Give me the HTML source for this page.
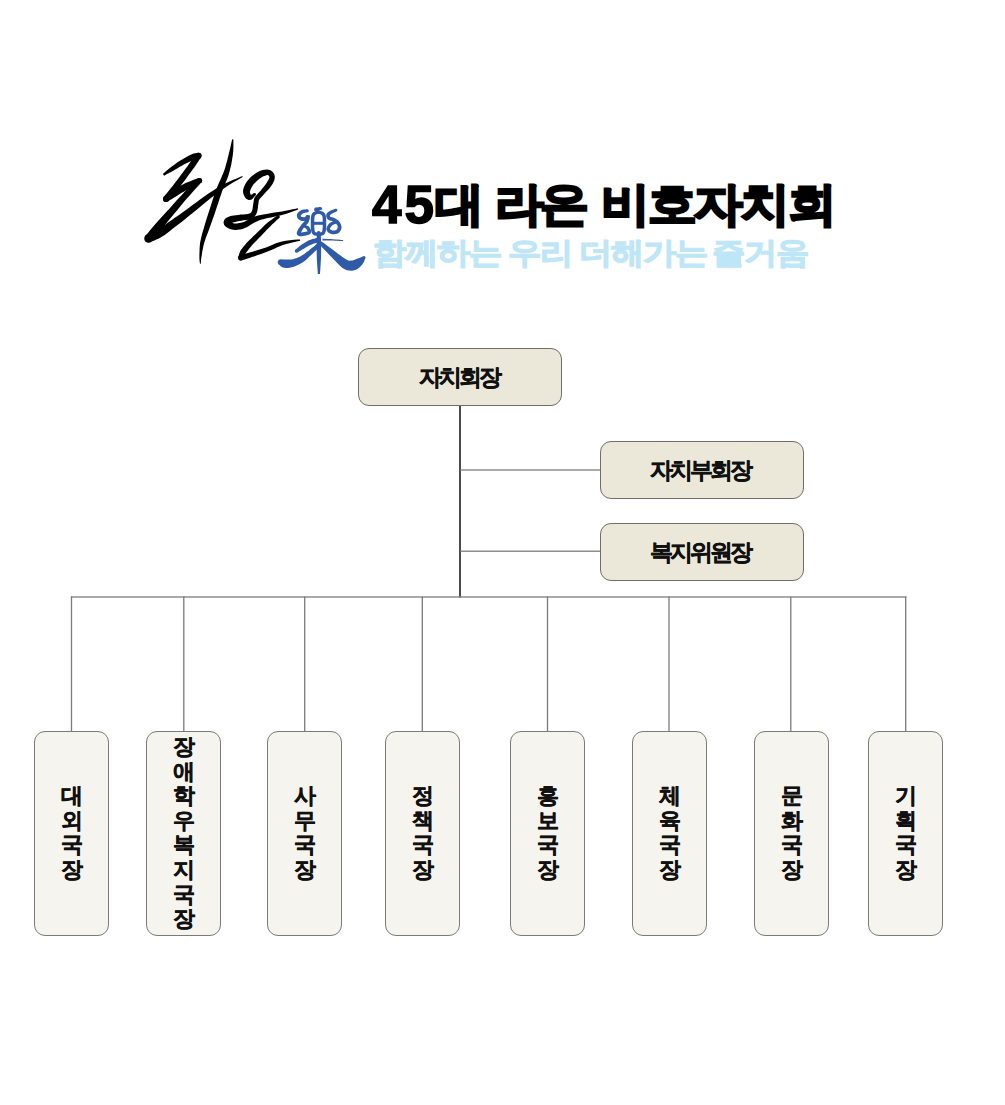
<!DOCTYPE html>
<html><head><meta charset="utf-8">
<style>
html,body{margin:0;padding:0;background:#fff;}
body{width:1005px;height:1105px;position:relative;overflow:hidden;font-family:"Liberation Sans",sans-serif;}
.a{position:absolute;}
.t{position:absolute;font-weight:bold;color:#000;white-space:nowrap;-webkit-text-stroke:2.5px #000;transform-origin:0 0;}
.th{font-size:46px;line-height:46px;top:181px;letter-spacing:-2px;transform:scaleX(1.06);}
.td{font-size:53px;line-height:53px;top:178px;letter-spacing:3px;-webkit-text-stroke:1.5px #000;}
.s{position:absolute;font-weight:normal;color:#bfe6f6;white-space:nowrap;-webkit-text-stroke:2.2px #bfe6f6;transform-origin:0 0;font-size:30px;line-height:30px;top:238px;letter-spacing:-1.1px;transform:scaleX(1.11);}
.box{position:absolute;box-sizing:border-box;border:1.6px solid #6f6f68;border-radius:11px;background:#ebe7d9;}
.bx{position:absolute;box-sizing:border-box;border:1.5px solid #7a7a76;border-radius:11px;background:#f6f4ee;}
.lbl{position:absolute;font-size:23px;line-height:30px;font-weight:bold;color:#111;-webkit-text-stroke:0.4px #111;white-space:nowrap;letter-spacing:-3px;}
.vl{position:absolute;width:1.3px;background:#8a8a8a;}
.hl{position:absolute;height:1.3px;background:#8a8a8a;}
.vt{position:absolute;font-size:22px;line-height:24.6px;font-weight:bold;color:#111;-webkit-text-stroke:0.4px #111;width:30px;text-align:center;}
</style></head>
<body>
<!-- logo -->
<svg class="a" style="left:0;top:0" width="1005" height="300" viewBox="0 0 1005 300">
<g fill="#000">
<path d="M164.1 175.7L165.3 175.1L167.0 174.1L169.0 173.1L171.1 171.9L173.2 170.8L175.3 169.5L177.6 168.2L179.9 166.8L182.2 165.5L184.3 164.3L186.4 163.2L188.6 162.2L190.6 161.2L192.5 160.4L194.1 159.8L195.3 159.4L196.4 159.2L197.3 159.0L198.2 158.9L198.9 158.8L198.1 152.8L197.4 152.9L196.5 153.0L195.2 153.2L193.6 153.6L191.9 154.2L190.1 155.0L188.1 156.0L186.0 157.2L183.8 158.4L181.7 159.7L179.5 161.1L177.2 162.6L175.0 164.2L172.8 165.8L170.8 167.2L168.9 168.7L167.1 170.3L165.3 171.8L163.9 173.0L162.9 173.9Z"/>
<circle cx="198.5" cy="155.8" r="3.00"/>
<path d="M196.0 154.1L194.9 155.7L193.4 157.9L191.5 160.5L189.5 163.3L187.5 166.2L185.3 169.1L183.0 172.3L180.5 175.6L178.0 178.9L175.6 182.1L173.0 185.4L170.2 188.9L167.6 192.2L165.3 195.1L163.7 197.1L168.3 200.9L170.0 198.9L172.3 196.0L175.0 192.7L177.8 189.2L180.4 185.9L182.9 182.7L185.5 179.4L187.9 176.0L190.3 172.8L192.5 169.8L194.6 166.9L196.6 164.0L198.4 161.3L199.9 159.1L201.0 157.5Z"/>
<circle cx="198.5" cy="155.8" r="3.00"/>
<circle cx="166.0" cy="199.0" r="3.00"/>
<path d="M167.7 201.5L168.9 200.7L170.6 199.7L172.6 198.5L174.7 197.2L176.8 195.9L179.0 194.5L181.3 193.1L183.7 191.7L186.1 190.2L188.5 188.9L191.0 187.6L193.8 186.2L196.5 184.8L198.8 183.7L200.5 182.9L198.5 178.1L196.7 178.7L194.3 179.6L191.4 180.7L188.3 181.9L185.5 183.1L182.9 184.4L180.3 185.8L177.8 187.3L175.4 188.7L173.2 190.1L171.0 191.6L168.9 193.1L167.0 194.5L165.4 195.7L164.3 196.5Z"/>
<circle cx="166.0" cy="199.0" r="3.00"/>
<circle cx="199.5" cy="180.5" r="2.60"/>
<path d="M197.6 178.7L195.6 180.8L192.6 183.7L189.3 187.1L185.8 190.6L182.7 193.9L179.9 196.9L177.2 199.8L174.6 202.8L172.0 205.7L169.4 208.7L166.5 211.8L163.5 215.1L160.4 218.4L157.6 221.5L155.0 224.4L152.6 227.2L150.3 229.9L148.3 232.4L146.6 234.5L145.4 236.0L151.6 241.0L152.8 239.5L154.5 237.5L156.5 235.0L158.8 232.4L161.0 229.6L163.5 226.7L166.2 223.4L169.0 220.0L171.9 216.6L174.6 213.3L177.2 210.2L179.8 207.1L182.2 204.1L184.7 201.1L187.3 198.1L190.3 194.8L193.5 191.1L196.7 187.5L199.5 184.5L201.4 182.3Z"/>
<circle cx="199.5" cy="180.5" r="2.60"/>
<circle cx="148.5" cy="238.5" r="4.00"/>
<path d="M150.1 242.2L151.6 241.5L153.8 240.7L156.4 239.6L159.3 238.2L162.2 236.6L165.0 234.8L167.7 232.8L170.5 230.6L173.3 228.3L176.2 226.0L179.2 223.7L182.2 221.4L185.3 218.9L188.5 216.3L192.0 213.6L195.7 210.5L199.7 207.2L203.8 203.8L207.8 200.6L211.5 197.6L214.8 195.0L217.9 192.7L220.8 190.5L223.8 188.4L226.8 186.4L230.2 184.2L233.9 182.0L237.5 180.0L240.5 178.2L242.7 176.9L242.3 176.1L240.0 177.0L236.7 178.4L232.8 180.0L228.9 181.8L225.2 183.6L221.9 185.4L218.7 187.2L215.5 189.1L212.1 191.2L208.5 193.6L204.6 196.3L200.4 199.3L196.1 202.5L191.9 205.6L188.0 208.4L184.5 211.0L181.1 213.4L177.9 215.7L174.8 217.8L171.8 220.0L168.7 222.1L165.8 224.2L162.9 226.1L160.3 227.8L157.8 229.4L155.4 230.7L152.9 232.0L150.5 233.1L148.4 234.1L146.9 234.8Z"/>
<circle cx="148.5" cy="238.5" r="4.00"/>
<path d="M232.2 139.2L231.8 141.0L231.2 143.6L230.6 146.5L229.8 149.7L229.0 152.9L228.2 156.3L227.3 159.9L226.3 163.6L225.3 167.3L224.1 170.9L222.7 174.3L221.2 177.9L219.6 181.5L217.9 185.2L216.4 188.9L215.0 192.6L213.8 196.3L212.6 200.0L211.4 203.7L210.3 207.3L209.1 211.0L207.9 214.8L206.7 218.6L205.5 222.3L204.5 225.8L203.5 229.2L202.5 232.5L201.6 235.8L200.9 239.0L200.2 242.2L199.8 245.4L199.6 248.7L199.5 251.9L199.4 254.7L199.4 257.1L199.4 259.1L199.6 260.7L199.7 262.0L199.9 263.0L200.0 263.7L200.8 263.7L200.8 262.9L200.9 261.9L201.0 260.7L201.1 259.2L201.4 257.3L201.8 254.9L202.2 252.1L202.8 249.1L203.4 246.0L204.2 243.0L205.1 240.1L206.1 237.1L207.3 234.1L208.5 230.9L209.7 227.6L211.0 224.1L212.2 220.4L213.6 216.7L214.9 213.0L216.1 209.3L217.4 205.6L218.6 201.9L219.7 198.3L221.0 194.7L222.2 191.1L223.6 187.5L225.1 183.9L226.6 180.2L228.1 176.4L229.3 172.5L230.3 168.6L231.2 164.7L231.9 160.8L232.5 157.1L233.0 153.7L233.3 150.3L233.4 146.9L233.4 143.8L233.4 141.2L233.4 139.4Z"/>
<path d="M253.9 193.2L253.0 193.7L251.7 194.4L250.5 195.0L249.7 195.1L250.3 194.9L250.8 194.8L250.5 194.1L250.1 193.1L249.9 192.1L250.0 191.3L250.3 190.4L250.8 188.9L251.7 187.3L252.7 185.6L253.8 184.1L255.1 182.7L256.6 181.2L258.2 179.7L259.9 178.5L261.4 177.4L262.8 176.6L264.4 175.9L265.9 175.4L267.1 175.1L267.9 175.1L268.2 175.2L268.6 175.5L269.0 176.1L269.3 176.7L269.4 177.2L269.3 177.7L269.0 178.6L268.5 179.8L267.7 181.1L266.9 182.5L265.9 183.9L264.8 185.5L263.4 187.2L262.1 188.8L260.8 190.4L259.6 191.7L258.4 193.0L257.1 194.4L255.9 195.8L254.8 197.2L254.1 198.8L253.8 200.2L253.6 201.4L253.5 202.5L253.3 203.6L253.1 205.1L252.8 206.9L252.6 208.5L252.3 209.9L251.9 211.0L251.4 211.9L251.1 212.5L250.7 212.9L250.2 213.2L249.3 213.6L247.8 214.0L245.6 214.2L243.2 214.4L240.6 214.6L238.2 214.9L236.0 215.2L233.9 215.5L231.8 215.8L229.9 216.3L228.1 216.9L226.5 217.7L225.2 218.8L224.1 220.3L223.5 222.6L224.2 224.9L225.5 226.4L227.0 227.5L228.8 228.5L230.8 229.3L233.1 229.8L235.4 229.9L237.7 229.8L240.2 229.4L242.6 228.9L244.9 228.1L247.2 227.1L249.2 225.8L251.1 224.6L252.8 223.4L254.5 222.5L256.2 221.7L257.8 221.0L259.6 220.3L261.7 219.6L264.2 218.9L267.4 218.1L271.1 217.4L275.1 216.6L279.1 215.7L282.8 214.8L286.4 213.7L290.0 212.5L293.3 211.3L296.2 210.3L298.2 209.6L297.8 208.2L295.7 208.7L292.7 209.3L289.3 210.0L285.6 210.7L282.0 211.4L278.4 212.0L274.4 212.6L270.4 213.3L266.5 213.9L263.2 214.5L260.5 215.1L258.2 215.6L256.2 216.1L254.2 216.7L252.1 217.5L250.0 218.5L248.0 219.7L246.1 220.8L244.5 221.7L242.9 222.3L241.1 222.7L239.1 223.1L237.1 223.4L235.3 223.5L233.9 223.4L232.8 223.1L231.6 222.6L230.5 222.0L229.8 221.5L229.8 221.5L230.1 222.5L229.9 223.4L229.8 223.6L230.1 223.4L230.7 223.1L231.7 222.8L233.2 222.4L235.1 222.0L237.1 221.5L239.2 221.1L241.4 220.7L243.8 220.3L246.4 220.0L248.9 219.5L251.1 218.8L252.9 217.9L254.3 216.9L255.3 215.6L256.1 214.4L256.7 213.0L257.3 211.3L257.6 209.4L257.9 207.5L258.0 205.9L258.3 204.4L258.5 203.1L258.6 201.9L258.7 201.1L258.8 200.5L259.2 199.8L259.8 198.8L260.8 197.7L261.9 196.5L263.3 195.1L264.6 193.6L265.9 192.1L267.4 190.5L268.9 188.9L270.3 187.2L271.5 185.5L272.5 183.9L273.4 182.3L274.2 180.6L274.7 178.8L274.8 176.8L274.5 175.0L273.7 173.3L272.5 171.7L270.9 170.5L268.9 169.7L266.9 169.5L264.7 169.7L262.6 170.1L260.4 170.8L258.2 171.8L256.1 172.9L254.0 174.4L252.0 176.0L250.1 177.8L248.4 179.7L246.9 181.6L245.5 183.8L244.4 186.0L243.5 188.3L243.0 190.7L243.2 193.2L244.0 195.4L245.1 197.4L246.5 198.9L248.7 200.1L251.3 199.7L252.9 198.5L254.0 197.1L254.9 195.9L255.5 195.2Z"/>
<circle cx="254.7" cy="194.2" r="1.25"/>
<path d="M277.4 215.5L276.0 216.5L274.1 217.8L271.9 219.4L269.6 221.1L267.4 222.8L265.4 224.6L263.4 226.5L261.5 228.4L259.6 230.3L257.7 232.1L255.8 234.0L253.8 235.8L251.9 237.7L250.0 239.5L248.2 241.3L246.5 243.1L244.9 244.9L243.4 246.7L242.1 248.4L240.9 250.1L240.0 251.8L239.3 253.5L238.9 255.0L238.6 256.1L238.3 256.9L243.3 258.7L243.6 257.8L244.0 256.8L244.5 255.6L245.1 254.4L245.9 253.1L246.8 251.8L248.0 250.2L249.3 248.6L250.7 246.8L252.2 245.1L253.8 243.3L255.6 241.4L257.5 239.5L259.4 237.6L261.3 235.7L263.1 233.7L265.0 231.8L266.8 229.8L268.6 228.0L270.4 226.2L272.3 224.3L274.4 222.4L276.3 220.6L278.0 219.0L279.2 217.9Z"/>
<circle cx="278.3" cy="216.7" r="1.50"/>
<circle cx="240.8" cy="257.8" r="2.60"/>
<path d="M241.5 260.3L242.9 259.9L244.7 259.4L246.9 258.7L249.4 257.9L252.0 257.1L254.7 256.2L257.8 255.1L261.1 254.0L264.4 252.8L267.6 251.6L270.7 250.3L273.8 248.9L276.8 247.5L279.8 246.2L282.9 245.0L286.4 244.0L290.4 243.0L294.4 242.1L297.8 241.3L300.2 240.8L300.0 239.4L297.5 239.6L294.0 239.8L289.9 240.2L285.7 240.7L281.9 241.4L278.4 242.4L275.2 243.6L272.1 244.9L269.0 246.2L266.0 247.4L262.8 248.5L259.6 249.5L256.3 250.5L253.2 251.5L250.4 252.3L247.9 253.1L245.4 253.8L243.2 254.4L241.4 254.9L240.1 255.3Z"/>
<circle cx="240.8" cy="257.8" r="2.60"/>
</g>
<g fill="#2f5aa8">
<path d="M307.1 209.2L306.3 209.3L305.2 209.4L303.8 209.5L302.4 209.7L301.1 210.2L299.9 210.9L299.0 211.7L298.1 212.6L297.4 213.6L296.9 214.8L296.9 216.1L297.1 217.3L297.7 218.3L298.5 219.3L299.5 220.1L300.7 220.6L302.0 220.9L303.3 221.0L304.7 221.0L306.2 220.8L307.5 219.9L308.4 218.8L309.1 217.9L309.3 217.4L306.6 217.0L306.4 216.5L306.2 217.3L305.9 218.4L305.5 219.6L305.0 220.6L304.5 221.3L303.8 222.1L302.9 223.0L301.9 224.0L301.0 225.2L300.1 226.4L299.2 227.7L298.4 229.1L297.6 230.4L297.1 231.5L296.8 232.6L296.8 233.7L297.3 235.0L298.4 235.8L299.5 236.2L300.7 236.3L302.0 236.2L303.4 236.0L304.7 235.8L305.9 235.6L306.9 235.3L307.9 235.1L308.9 234.7L310.0 234.1L311.0 232.9L311.2 231.4L310.9 230.1L310.4 229.0L309.9 227.9L309.2 227.0L308.4 226.3L307.4 225.8L306.6 225.4L305.9 225.2L305.5 225.0L304.3 227.6L304.7 227.8L305.3 228.1L305.9 228.5L306.3 228.9L306.6 229.2L306.9 229.7L307.2 230.4L307.5 231.2L307.6 231.6L307.6 231.5L307.8 231.2L307.6 231.3L306.9 231.5L306.1 231.7L305.1 231.8L304.1 232.0L302.8 232.3L301.6 232.4L300.7 232.5L300.1 232.4L300.2 232.4L300.5 232.7L300.7 233.2L300.8 233.3L300.9 232.9L301.2 232.1L301.8 231.0L302.5 229.8L303.3 228.5L304.0 227.4L304.8 226.5L305.6 225.7L306.6 224.7L307.5 223.7L308.4 222.4L309.0 221.0L309.5 219.5L309.8 218.1L310.0 216.8L309.8 215.2L306.6 215.0L306.0 215.8L305.5 216.6L305.0 217.1L304.8 217.2L304.4 217.2L303.6 217.2L302.6 217.1L301.8 216.9L301.3 216.7L301.1 216.6L300.9 216.3L300.7 216.0L300.7 215.7L300.7 215.6L300.7 215.4L301.1 215.0L301.6 214.5L302.2 214.0L302.7 213.6L303.5 213.3L304.5 212.9L305.7 212.6L306.8 212.4L307.5 212.2Z"/>
<circle cx="307.3" cy="210.7" r="1.50"/>
<circle cx="304.9" cy="226.3" r="1.40"/>
<path d="M316.4 211.4L317.1 211.2L318.1 210.9L319.2 210.5L320.2 210.3L320.8 210.1L320.2 206.9L319.5 207.0L318.4 207.2L317.3 207.4L316.3 207.5L315.6 207.6Z"/>
<circle cx="316.0" cy="209.5" r="1.90"/>
<circle cx="320.5" cy="208.5" r="1.60"/>
<path d="M318.0 210.5L317.3 210.7L316.2 210.9L314.8 211.4L313.2 212.2L312.0 213.6L311.3 215.3L311.0 217.2L310.8 219.1L310.8 221.1L310.8 223.0L310.8 225.0L310.8 227.2L311.0 229.4L311.3 231.5L312.0 233.3L313.1 234.7L314.6 235.5L316.1 235.8L317.4 235.8L318.5 235.8L319.6 235.8L320.9 235.8L322.4 235.5L323.9 234.7L325.0 233.3L325.7 231.5L326.0 229.4L326.2 227.2L326.2 225.0L326.2 223.0L326.2 221.1L326.2 219.1L326.0 217.2L325.7 215.3L325.0 213.6L323.8 212.2L322.2 211.4L320.8 210.9L319.7 210.7L319.0 210.5L318.0 213.5L318.8 213.8L319.8 214.1L320.9 214.5L321.6 214.9L322.0 215.4L322.3 216.3L322.5 217.6L322.7 219.3L322.7 221.2L322.8 223.0L322.7 224.9L322.7 227.0L322.5 229.0L322.3 230.7L322.0 231.7L321.7 232.1L321.2 232.3L320.5 232.5L319.5 232.6L318.5 232.6L317.5 232.6L316.5 232.5L315.8 232.3L315.3 232.1L315.0 231.7L314.7 230.7L314.5 229.0L314.3 227.0L314.3 224.9L314.2 223.0L314.3 221.2L314.3 219.3L314.5 217.6L314.7 216.3L315.0 215.4L315.4 214.9L316.1 214.5L317.2 214.1L318.2 213.8L319.0 213.5Z"/>
<circle cx="318.5" cy="212.0" r="1.60"/>
<circle cx="318.5" cy="212.0" r="1.60"/>
<path d="M313.0 224.8L314.7 224.8L317.1 224.8L319.9 224.8L322.3 224.8L324.0 224.8L324.0 221.8L322.3 221.8L319.9 221.8L317.1 221.8L314.7 221.8L313.0 221.8Z"/>
<circle cx="313.0" cy="223.3" r="1.50"/>
<circle cx="324.0" cy="223.3" r="1.50"/>
<path d="M335.4 208.8L334.3 209.2L332.7 209.8L330.8 210.6L329.0 211.4L327.5 212.4L326.6 213.8L326.2 215.3L326.3 216.7L326.7 217.9L327.5 219.1L328.6 220.0L329.9 220.5L331.0 220.7L332.0 221.0L332.8 221.3L333.6 221.8L334.5 222.3L335.2 222.8L335.8 223.3L336.3 223.9L336.7 224.5L337.2 225.3L337.5 226.1L337.7 226.8L337.7 227.4L337.6 227.9L337.4 228.5L337.0 229.2L336.6 229.7L336.2 230.0L335.7 230.2L334.9 230.4L333.9 230.5L333.0 230.5L332.3 230.4L331.6 230.1L330.9 229.8L330.4 229.4L330.0 229.1L330.0 229.0L330.0 228.8L330.2 228.1L330.7 227.2L331.2 226.4L331.8 225.7L332.4 225.2L333.3 224.7L334.3 224.2L335.3 223.8L336.0 223.5L334.8 220.7L334.1 221.0L333.1 221.3L331.9 221.8L330.6 222.4L329.4 223.3L328.5 224.3L327.7 225.4L327.0 226.7L326.5 228.0L326.4 229.6L327.0 231.0L327.9 232.1L328.9 233.0L330.1 233.6L331.3 234.0L332.7 234.3L334.1 234.3L335.5 234.1L336.9 233.8L338.2 233.2L339.3 232.4L340.1 231.3L340.8 230.2L341.3 228.9L341.5 227.6L341.4 226.3L341.1 225.0L340.6 223.7L340.0 222.6L339.3 221.5L338.4 220.6L337.4 219.8L336.4 219.2L335.4 218.6L334.4 218.1L333.2 217.6L331.9 217.3L330.9 217.0L330.3 216.8L330.1 216.7L330.0 216.5L329.9 216.0L329.9 215.6L329.9 215.3L330.1 215.0L330.8 214.4L332.2 213.5L333.9 212.7L335.5 211.9L336.6 211.4Z"/>
<circle cx="336.0" cy="210.1" r="1.40"/>
<circle cx="335.4" cy="222.1" r="1.50"/>
<path d="M322.5 240.4L323.9 240.4L325.9 240.5L328.3 240.5L330.7 240.5L333.0 240.6L335.2 240.7L337.5 240.8L339.8 240.9L341.7 241.0L343.1 241.1L343.1 240.1L341.8 240.0L339.8 239.8L337.6 239.6L335.2 239.4L333.0 239.2L330.8 239.1L328.3 239.0L326.0 238.9L324.0 238.8L322.5 238.8Z"/>
<path d="M316.7 233.0L316.7 234.6L316.7 236.8L316.7 239.4L316.6 242.2L316.7 245.0L316.7 247.8L316.7 250.8L316.7 253.9L316.8 257.0L316.9 260.0L317.1 263.1L317.3 266.3L317.5 269.5L317.7 272.1L317.8 274.0L320.0 274.0L320.1 272.1L320.3 269.5L320.5 266.3L320.7 263.1L320.9 260.0L321.0 257.0L321.1 253.9L321.1 250.8L321.2 247.8L321.1 245.0L321.1 242.2L321.0 239.4L320.9 236.8L320.8 234.5L320.7 233.0Z"/>
<circle cx="318.7" cy="233.0" r="2.00"/>
<path d="M297.5 252.4L298.4 251.9L299.7 251.1L301.2 250.2L302.8 249.2L304.2 248.4L305.6 247.6L307.0 246.8L308.3 246.0L309.7 245.3L311.0 244.7L312.3 244.2L313.8 243.6L315.3 243.2L316.7 242.8L317.6 242.5L316.4 238.1L315.4 238.4L314.1 238.7L312.4 239.1L310.7 239.7L309.0 240.3L307.5 241.0L306.0 241.9L304.6 242.8L303.1 243.7L301.8 244.6L300.4 245.6L298.9 246.8L297.5 247.9L296.3 248.9L295.5 249.6Z"/>
<circle cx="296.5" cy="251.0" r="1.75"/>
<circle cx="317.0" cy="240.3" r="2.25"/>
<path d="M316.2 244.6L315.1 245.5L313.6 246.7L311.8 248.1L310.0 249.6L308.3 250.9L306.6 252.1L305.0 253.4L303.4 254.5L301.8 255.5L300.2 256.4L298.6 257.2L296.9 258.0L295.1 258.6L293.5 259.1L292.0 259.5L290.6 259.6L289.1 259.6L287.7 259.5L286.3 259.4L285.2 259.4L284.6 259.4L284.1 259.5L283.4 259.6L282.7 259.6L282.1 259.5L279.5 264.9L279.9 265.3L280.4 265.9L281.4 266.7L282.7 267.4L284.4 267.8L286.0 267.9L287.7 267.9L289.7 267.7L291.8 267.3L293.8 266.7L295.8 266.0L297.8 265.1L299.8 264.1L301.7 263.0L303.6 261.8L305.3 260.5L307.0 259.0L308.5 257.6L310.0 256.1L311.5 254.7L313.1 253.2L314.8 251.5L316.5 249.9L317.9 248.6L318.8 247.6Z"/>
<circle cx="317.5" cy="246.1" r="2.00"/>
<circle cx="280.8" cy="262.2" r="3.00"/>
<path d="M318.2 243.4L319.4 244.6L321.1 246.3L323.0 248.3L325.0 250.3L326.9 252.2L328.5 253.9L330.2 255.7L331.9 257.5L333.6 259.3L335.3 261.1L337.0 262.8L338.7 264.5L340.5 266.3L342.5 267.9L344.7 269.2L347.0 270.2L349.2 270.6L351.4 270.7L353.3 270.5L355.2 270.0L357.1 269.2L358.8 268.0L360.2 266.8L361.4 265.6L362.3 264.4L363.2 263.1L364.0 261.7L364.5 260.4L364.8 259.3L365.1 258.5L362.9 256.5L362.1 256.8L361.1 257.3L359.9 257.8L358.8 258.2L357.7 258.6L356.5 259.0L355.2 259.6L354.1 260.0L353.2 260.3L352.4 260.4L351.6 260.5L350.8 260.6L350.1 260.7L349.4 260.7L348.5 260.6L347.4 260.1L345.8 259.2L344.0 258.1L342.1 256.7L340.1 255.3L338.3 254.0L336.4 252.6L334.5 251.1L332.5 249.6L330.5 248.0L328.3 246.4L326.0 244.8L323.7 243.1L321.8 241.7L320.4 240.8Z"/>
<circle cx="319.3" cy="242.1" r="1.75"/>
<circle cx="364.0" cy="257.5" r="1.50"/>
</g>
</svg>

<div class="t td" style="left:372px">45</div>
<div class="t th" style="left:435px">대</div>
<div class="t th" style="left:495px;letter-spacing:-4px">라온</div>
<div class="t th" style="left:601px">비호자치회</div>
<div class="s" style="left:373px">함께하는</div>
<div class="s" style="left:508px">우리</div>
<div class="s" style="left:579px">더해가는</div>
<div class="s" style="left:712px">즐거움</div>

<!-- lines -->
<svg class="a" style="left:0;top:0" width="1005" height="1105">
<line x1="460" y1="405" x2="460" y2="598" stroke="#1e1e1e" stroke-width="1.6"/>
<line x1="460.5" y1="470" x2="601" y2="470" stroke="#8e8e8e" stroke-width="1.6"/>
<line x1="460.5" y1="551.3" x2="601" y2="551.3" stroke="#8e8e8e" stroke-width="1.6"/>
<line x1="70.8" y1="597" x2="906.4" y2="597" stroke="#8e8e8e" stroke-width="1.6"/>
<line x1="71.5" y1="596.5" x2="71.5" y2="732" stroke="#7a7a7a" stroke-width="1.3"/>
<line x1="183.8" y1="596.5" x2="183.8" y2="732" stroke="#7a7a7a" stroke-width="1.3"/>
<line x1="304.7" y1="596.5" x2="304.7" y2="732" stroke="#7a7a7a" stroke-width="1.3"/>
<line x1="422.3" y1="596.5" x2="422.3" y2="732" stroke="#7a7a7a" stroke-width="1.3"/>
<line x1="547.5" y1="596.5" x2="547.5" y2="732" stroke="#7a7a7a" stroke-width="1.3"/>
<line x1="669.0" y1="596.5" x2="669.0" y2="732" stroke="#7a7a7a" stroke-width="1.3"/>
<line x1="790.8" y1="596.5" x2="790.8" y2="732" stroke="#7a7a7a" stroke-width="1.3"/>
<line x1="905.7" y1="596.5" x2="905.7" y2="732" stroke="#7a7a7a" stroke-width="1.3"/>
</svg>
<!-- top boxes -->
<div class="box" style="left:358px;top:348px;width:204px;height:58px"></div>
<div class="box" style="left:600px;top:441px;width:203.5px;height:58px"></div>
<div class="box" style="left:600px;top:523px;width:203.5px;height:57.5px"></div>
<div class="lbl" style="left:419px;top:362px">자치회장</div>
<div class="lbl" style="left:650px;top:455px">자치부회장</div>
<div class="lbl" style="left:650px;top:537px">복지위원장</div>

<!-- bottom boxes -->
<div class="bx" style="left:33.5px;top:730.5px;width:75.3px;height:205px"></div>
<div class="bx" style="left:145.5px;top:730.5px;width:75.3px;height:205px"></div>
<div class="bx" style="left:266.5px;top:730.5px;width:75.3px;height:205px"></div>
<div class="bx" style="left:384.5px;top:730.5px;width:75.3px;height:205px"></div>
<div class="bx" style="left:509.5px;top:730.5px;width:75.3px;height:205px"></div>
<div class="bx" style="left:631.5px;top:730.5px;width:75.3px;height:205px"></div>
<div class="bx" style="left:753.5px;top:730.5px;width:75.3px;height:205px"></div>
<div class="bx" style="left:867.5px;top:730.5px;width:75.3px;height:205px"></div>

<div class="vt" style="left:56.5px;top:784px">대<br>외<br>국<br>장</div>
<div class="vt" style="left:168.5px;top:735px">장<br>애<br>학<br>우<br>복<br>지<br>국<br>장</div>
<div class="vt" style="left:289.5px;top:784px">사<br>무<br>국<br>장</div>
<div class="vt" style="left:407.5px;top:784px">정<br>책<br>국<br>장</div>
<div class="vt" style="left:532.5px;top:784px">홍<br>보<br>국<br>장</div>
<div class="vt" style="left:654.5px;top:784px">체<br>육<br>국<br>장</div>
<div class="vt" style="left:776.5px;top:784px">문<br>화<br>국<br>장</div>
<div class="vt" style="left:890.5px;top:784px">기<br>획<br>국<br>장</div>
</body></html>
